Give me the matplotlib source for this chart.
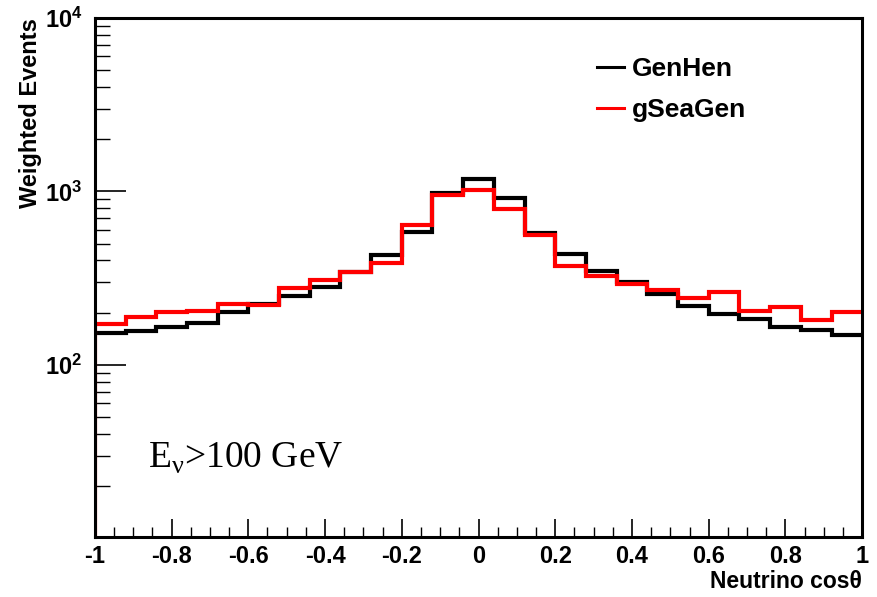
import numpy as np
import matplotlib
matplotlib.use("Agg")
import matplotlib.pyplot as plt
from matplotlib.lines import Line2D
from matplotlib.ticker import MultipleLocator, LogLocator, NullFormatter

plt.rcParams["font.family"] = ["Liberation Sans", "DejaVu Sans"]
plt.rcParams["font.weight"] = "bold"

# 25 bins of 0.08 in cos(theta), from -1 to 1
edges = np.linspace(-1, 1, 26)
genhen = [152, 156, 166, 174, 203, 226, 251, 283, 345, 430, 586, 975, 1175,
          914, 574, 437, 350, 300, 257, 219, 196, 183, 166, 159, 148]
gseagen = [172, 188, 201, 206, 225, 222, 277, 309, 345, 385, 641, 955, 1020,
           789, 561, 372, 327, 292, 271, 244, 262, 206, 215, 182, 203]
labels = ["GenHen", "gSeaGen"]
colors = ["black", "#ff0000"]
ylim = (10.2, 1e4)

fig = plt.figure(figsize=(8.78, 5.97), dpi=100)
ax = fig.add_axes([0.108, 0.1005, 0.874, 0.8695])

ax.stairs(genhen, edges, color=colors[0], lw=3.0, baseline=None)
ax.stairs(gseagen, edges, color=colors[1], lw=3.0, baseline=None)
ax.vlines(edges[0], ylim[0], gseagen[0], color=colors[1], lw=3.0)

ax.set_yscale("log")
ax.set_xlim(edges[0], edges[-1])
ax.set_ylim(*ylim)

for s in ax.spines.values():
    s.set_linewidth(2.2)

ax.xaxis.set_major_locator(MultipleLocator(0.2))
ax.xaxis.set_minor_locator(MultipleLocator(0.05))
ax.yaxis.set_major_locator(LogLocator(base=10, numticks=10))
ax.yaxis.set_minor_locator(LogLocator(base=10, subs=np.arange(2, 10), numticks=20))
ax.yaxis.set_minor_formatter(NullFormatter())
ax.xaxis.set_major_formatter(plt.FuncFormatter(lambda v, p: f"{v:g}" if abs(v) > 1e-9 else "0"))

ax.tick_params(axis="x", which="major", direction="in", length=13, width=1.2,
               labelsize=17, pad=6, top=False)
ax.tick_params(axis="x", which="minor", direction="in", length=7, width=1.0, top=False)
ax.tick_params(axis="y", which="major", direction="in", length=22, width=1.2,
               labelsize=17, pad=9, right=False)
ax.tick_params(axis="y", which="minor", direction="in", length=11, width=1.0, right=False)
for lab in ax.get_xticklabels() + ax.get_yticklabels():
    lab.set_fontweight("bold")

ax.set_ylabel("Weighted Events", fontsize=17, fontweight="bold", loc="top", labelpad=2)
ax.set_xlabel("Neutrino cos\u03b8", fontsize=16.5, fontweight="bold", loc="right", labelpad=1)

handles = [Line2D([], [], color=c, lw=2.2) for c in colors]
ax.legend(handles, labels, loc="upper left", bbox_to_anchor=(0.654, 0.925), frameon=False,
          borderpad=0, borderaxespad=0,
          prop={"size": 19, "weight": "bold"}, handlelength=1.05, handletextpad=0.3,
          labelspacing=0.65)

ax.text(0.069, 0.152, "E$_\\mathregular{\u03bd}$>100 GeV", transform=ax.transAxes,
        fontsize=27, fontweight="normal", family="Liberation Serif",
        va="center", ha="left")

fig.savefig("out.png", dpi=100)
